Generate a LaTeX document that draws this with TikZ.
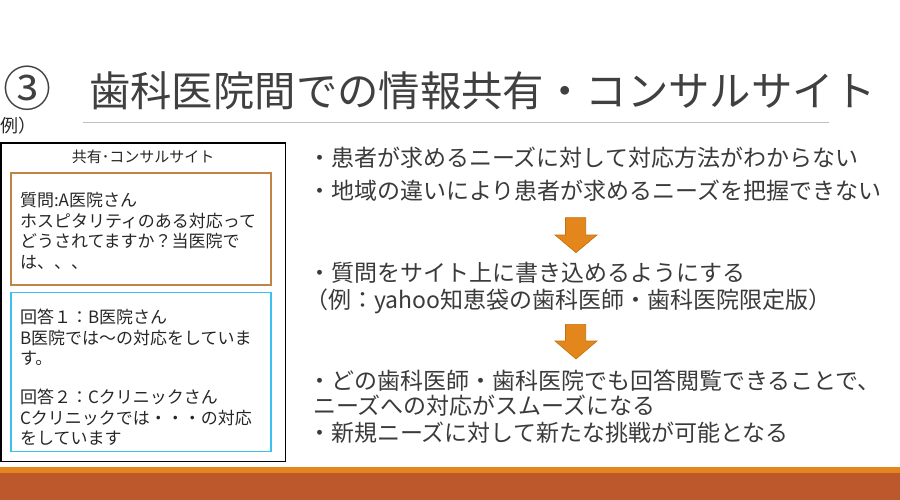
\documentclass[tikz,border=0pt]{standalone}
\usepackage{fontspec}
\newfontfamily\jp{Noto Sans CJK JP}
\definecolor{titlegray}{HTML}{404040}
\definecolor{bodygray}{HTML}{3A3A3A}
\definecolor{boxtext}{HTML}{262626}
\definecolor{rulegray}{HTML}{BFBFBF}
\definecolor{qbrown}{HTML}{C08545}
\definecolor{ablue}{HTML}{3CC0F0}
\definecolor{arrowfill}{HTML}{E3861B}
\definecolor{arrowline}{HTML}{C2700F}
\definecolor{stripe}{HTML}{E3861B}
\definecolor{band}{HTML}{BD582C}
\tikzset{
  txt/.style={anchor=base west, inner sep=0pt, outer sep=0pt},
  titletext/.style={txt, text=titlegray, font=\jp\fontsize{41.4}{45}\selectfont},
  righttext/.style={txt, text=bodygray, font=\jp\fontsize{23}{27}\selectfont},
  boxline/.style={txt, text=boxtext, font=\jp\fontsize{17}{20}\selectfont},
  downarrow/.style={fill=arrowfill, draw=arrowline, line width=0.6pt},
}
\begin{document}
\begin{tikzpicture}[x=1pt, y=-1pt]
\useasboundingbox (0,0) rectangle (900,500);
% bottom bands
\fill[stripe] (0,467) rectangle (900,472.5);
\fill[band] (0,472.5) rectangle (900,500);
% title
\node[anchor=center, inner sep=0pt, text=titlegray, font=\jp\fontsize{48}{52}\selectfont] (num) at (27.5,88) {③};
\node[titletext] (title) at (89,107) {歯科医院間での情報共有・コンサルサイト};
\coordinate (ruleL) at (83,123);
\coordinate (ruleR) at (829,123);
\draw[rulegray, line width=1pt] (ruleL) -- (ruleR);
\node[txt, text=boxtext, font=\jp\fontsize{18}{21}\selectfont] (rei) at (1,133) {例）};
% left panel
\draw[black, line width=1.2pt] (1,143) rectangle (285.5,461.5);
\node[anchor=base, inner sep=0pt, text=boxtext, font=\jp\fontsize{15}{18}\selectfont] (site) at (143,162.7) {共有･コンサルサイト};
\draw[qbrown, line width=1.2pt] (11,173) rectangle (271,285);
\node[boxline] (q1) at (20,206.5) {質問:A医院さん};
\node[boxline] (q2) at (20,227) {ホスピタリティのある対応って};
\node[boxline] (q3) at (20,247.5) {どうされてますか？当医院で};
\node[boxline] (q4) at (20,268) {は、、、};
\draw[ablue, line width=1.2pt] (11,292.5) rectangle (271,451.5);
\node[boxline] (a1) at (20,323.5) {回答１：B医院さん};
\node[boxline] (a2) at (20,344.5) {B医院では～の対応をしていま};
\node[boxline] (a3) at (20,364.5) {す。};
\node[boxline] (a4) at (20,403.5) {回答２：Cクリニックさん};
\node[boxline] (a5) at (20,424.5) {Cクリニックでは・・・の対応};
\node[boxline] (a6) at (20,444.5) {をしています};
% right text
\node[righttext] (r1) at (308,166.7) {・患者が求めるニーズに対して対応方法がわからない};
\node[righttext] (r2) at (308,199.7) {・地域の違いにより患者が求めるニーズを把握できない};
\draw[downarrow] (565.5,217.7) -- (585.7,217.7) -- (585.7,235) -- (597,235) -- (576,252.7) -- (555,235) -- (565.5,235) -- cycle;
\node[righttext] (r3) at (308,281.7) {・質問をサイト上に書き込めるようにする};
\node[righttext] (r4) at (305,308.7) {（例：yahoo知恵袋の歯科医師・歯科医院限定版）};
\draw[downarrow] (565.5,324.3) -- (585.7,324.3) -- (585.7,341) -- (597,341) -- (576,359) -- (555,341) -- (565.5,341) -- cycle;
\node[righttext] (r5) at (308,389.7) {・どの歯科医師・歯科医院でも回答閲覧できることで、};
\node[righttext] (r6) at (313,414.7) {ニーズへの対応がスムーズになる};
\node[righttext] (r7) at (308,441.7) {・新規ニーズに対して新たな挑戦が可能となる};
\end{tikzpicture}
\end{document}
